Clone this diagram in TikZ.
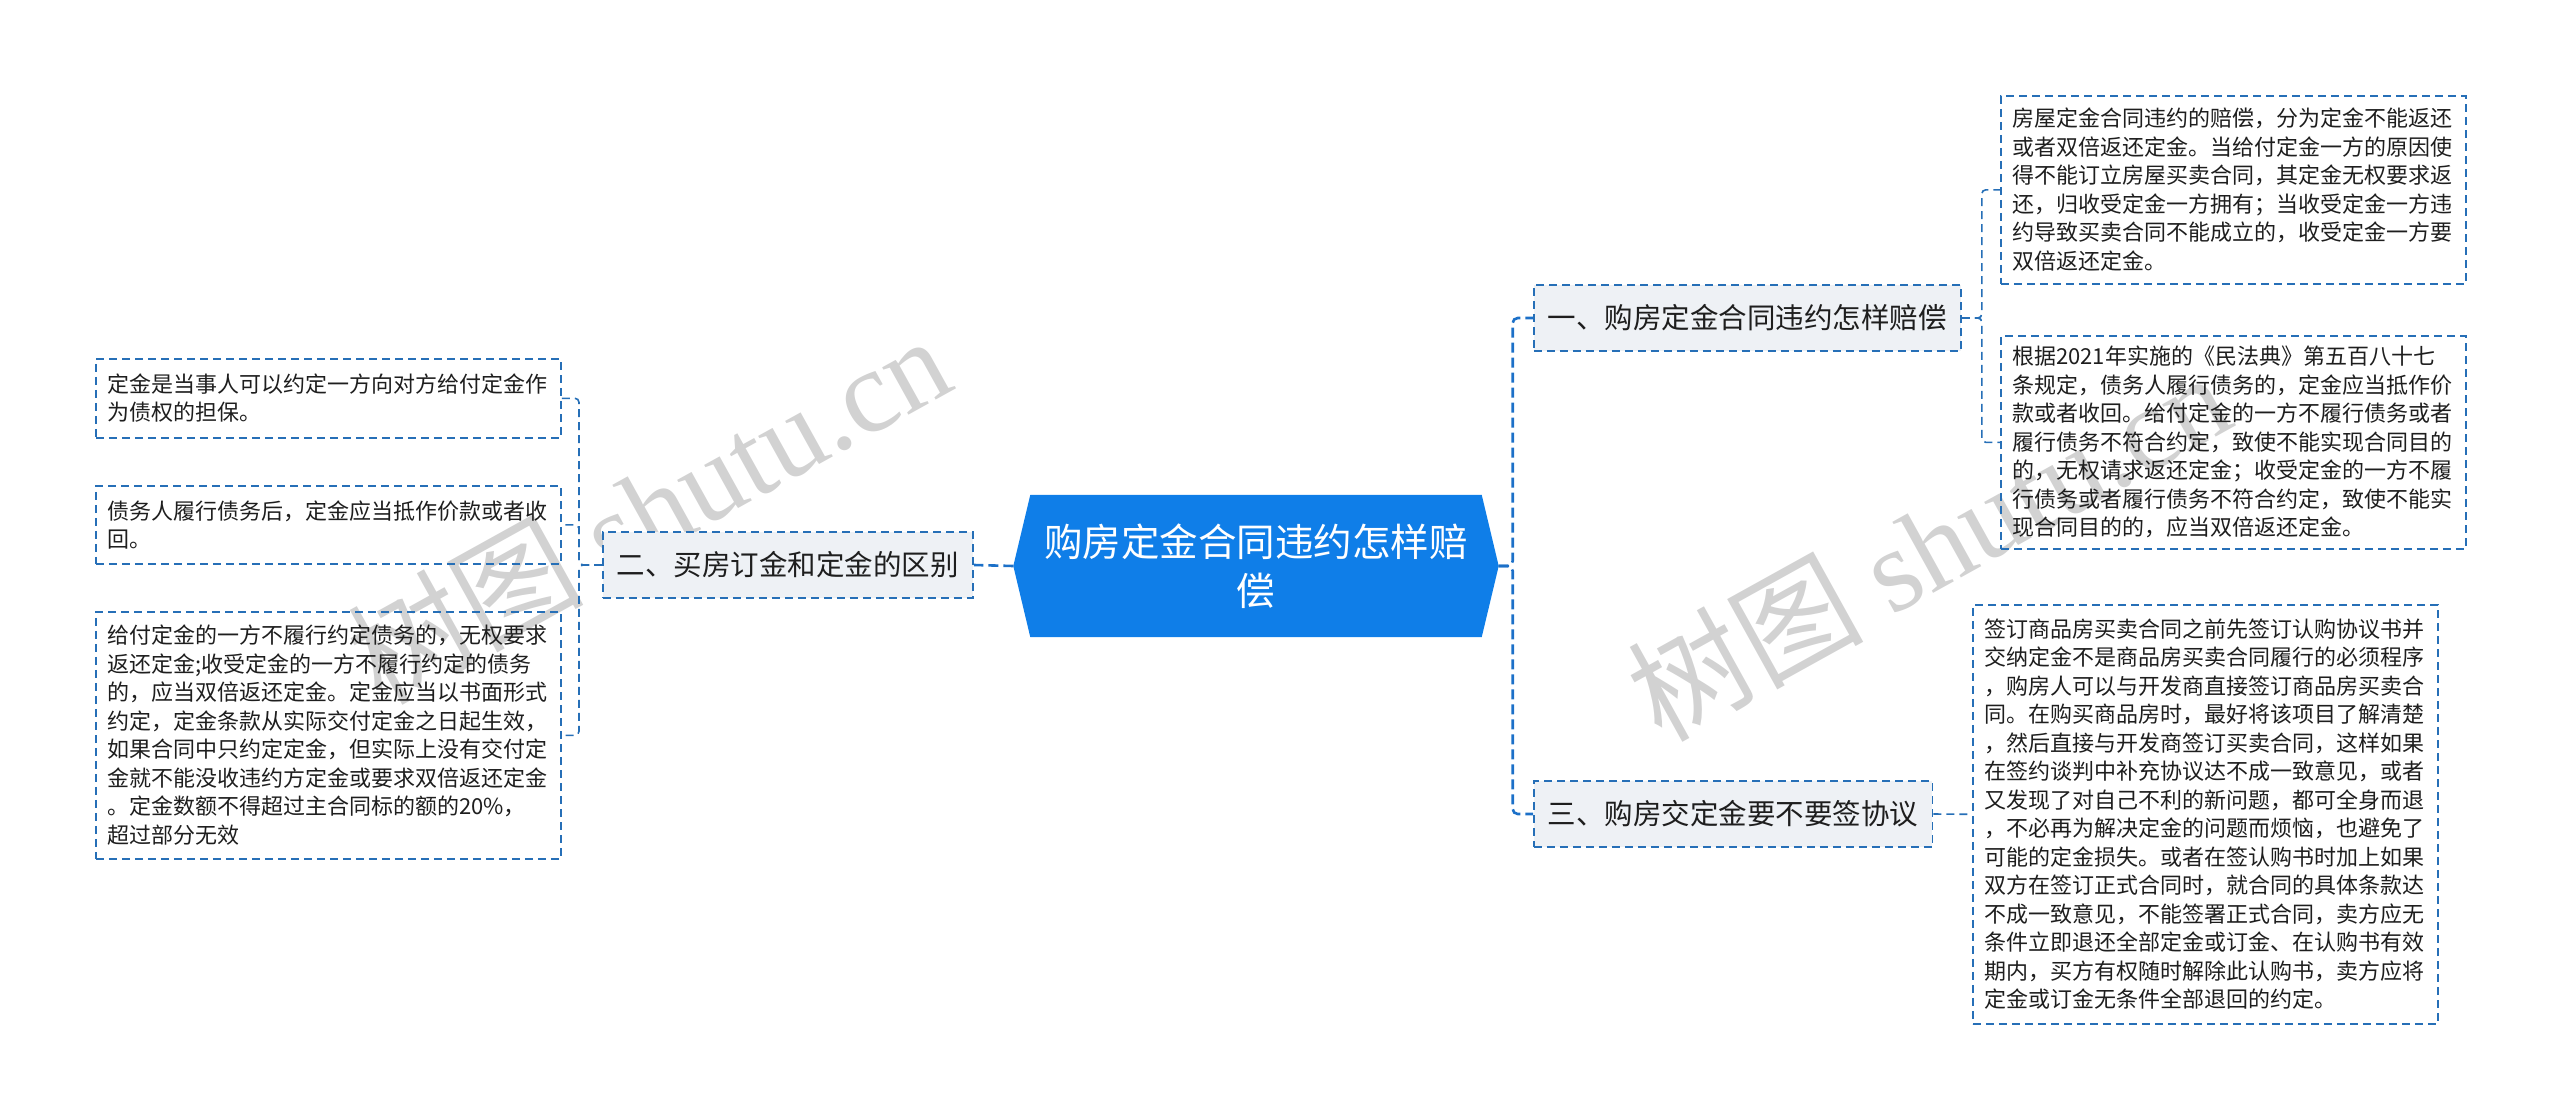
\documentclass[tikz,border=0pt]{standalone}
\usepackage{fontspec}
\setmainfont{Noto Sans CJK SC}
\newfontfamily\wmserif{Liberation Serif}
\usetikzlibrary{calc}
\definecolor{hexblue}{RGB}{15,126,232}
\definecolor{lineblue}{RGB}{38,111,183}
\definecolor{trunkblue}{RGB}{28,112,200}
\definecolor{boxfill}{RGB}{238,241,245}
\definecolor{txt}{RGB}{30,30,30}
\definecolor{wmgray}{RGB}{210,210,210}
\begin{document}
\begin{tikzpicture}[x=1pt,y=-1pt,
 leaf/.style={draw=lineblue, line width=1.6pt, dash pattern=on 8pt off 5pt, anchor=north west, align=left, text width=442pt, inner xsep=11.5pt, inner ysep=0pt, font=\fontsize{22}{28.5}\selectfont, text=txt},
 branch/.style={draw=lineblue, fill=boxfill, line width=1.8pt, dash pattern=on 8pt off 5pt, anchor=west, inner xsep=14pt, inner ysep=0pt, minimum height=66pt, font=\fontsize{28.5}{34}\selectfont, text=txt},
 centerbox/.style={minimum width=485pt, minimum height=142pt, inner sep=0pt, align=center, text width=450pt, text=white, font=\fontsize{38.5}{49}\selectfont},
 trunk/.style={draw=trunkblue, line width=2.6pt, dash pattern=on 10pt off 5pt, rounded corners=5pt},
 link/.style={draw=lineblue, line width=1.6pt, dash pattern=on 8pt off 5pt, rounded corners=4pt},
 wm/.style={text=wmgray, font=\fontsize{118}{118}\selectfont, inner sep=0pt}
]
\useasboundingbox (0,0) rectangle (2560,1119);

% watermarks
\node[wm, rotate=29] (w1) at (648,508) {树图 {\wmserif shutu.cn}};
\node[wm, rotate=29] (w2) at (1928,545) {树图 {\wmserif shutu.cn}};

% central node
\node[centerbox] (c) at (1256,566) {};
\fill[hexblue] (c.west) -- ($(c.north west)+(17,0)$) -- ($(c.north east)+(-17,0)$) -- (c.east)
  -- ($(c.south east)+(-17,0)$) -- ($(c.south west)+(17,0)$) -- cycle;
\node[centerbox] (ct) at (c.center) {购房定金合同违约怎样赔\\偿};

% branches
\node[branch] (b1) at (1533,318) {一、购房定金合同违约怎样赔偿};
\node[branch] (b2) at (602,565) {二、买房订金和定金的区别};
\node[branch] (b3) at (1533,814) {三、购房交定金要不要签协议};

% leaves
\node[leaf, minimum height=188pt] (r1) at (2000,95) {房屋定金合同违约的赔偿，分为定金不能返还\\或者双倍返还定金。当给付定金一方的原因使\\得不能订立房屋买卖合同，其定金无权要求返\\还，归收受定金一方拥有；当收受定金一方违\\约导致买卖合同不能成立的，收受定金一方要\\双倍返还定金。};
\node[leaf, minimum height=213pt] (r2) at (2000,335) {根据2021年实施的《民法典》第五百八十七\\条规定，债务人履行债务的，定金应当抵作价\\款或者收回。给付定金的一方不履行债务或者\\履行债务不符合约定，致使不能实现合同目的\\的，无权请求返还定金；收受定金的一方不履\\行债务或者履行债务不符合约定，致使不能实\\现合同目的的，应当双倍返还定金。};
\node[leaf, minimum height=419pt] (r3) at (1972,604) {签订商品房买卖合同之前先签订认购协议书并\\交纳定金不是商品房买卖合同履行的必须程序\\，购房人可以与开发商直接签订商品房买卖合\\同。在购买商品房时，最好将该项目了解清楚\\，然后直接与开发商签订买卖合同，这样如果\\在签约谈判中补充协议达不成一致意见，或者\\又发现了对自己不利的新问题，都可全身而退\\，不必再为解决定金的问题而烦恼，也避免了\\可能的定金损失。或者在签认购书时加上如果\\双方在签订正式合同时，就合同的具体条款达\\不成一致意见，不能签署正式合同，卖方应无\\条件立即退还全部定金或订金、在认购书有效\\期内，买方有权随时解除此认购书，卖方应将\\定金或订金无条件全部退回的约定。};
\node[leaf, minimum height=79pt] (l1) at (95,358) {定金是当事人可以约定一方向对方给付定金作\\为债权的担保。};
\node[leaf, minimum height=78pt] (l2) at (95,485) {债务人履行债务后，定金应当抵作价款或者收\\回。};
\node[leaf, minimum height=247pt] (l3) at (95,611) {给付定金的一方不履行约定债务的，无权要求\\返还定金;收受定金的一方不履行约定的债务\\的，应当双倍返还定金。定金应当以书面形式\\约定，定金条款从实际交付定金之日起生效，\\如果合同中只约定定金，但实际上没有交付定\\金就不能没收违约方定金或要求双倍返还定金\\。定金数额不得超过主合同标的额的20\%，\\超过部分无效};

% trunk connectors
\draw[trunk] (c.east) -- ++(14,0) |- (b1.west);
\draw[trunk] (c.east) -- ++(14,0) |- (b3.west);
\draw[trunk] (c.west) -- (b2.east);

% leaf connectors
\draw[link] (b1.east) -- ++(20,0) |- (r1.west);
\draw[link] (b1.east) -- ++(20,0) |- (r2.west);
\draw[link] (b3.east) -- (r3.west);
\draw[link] (b2.west) -- ++(-23,0) |- (l1.east);
\draw[link] (b2.west) -- ++(-23,0) |- (l2.east);
\draw[link] (b2.west) -- ++(-23,0) |- (l3.east);
\end{tikzpicture}
\end{document}
